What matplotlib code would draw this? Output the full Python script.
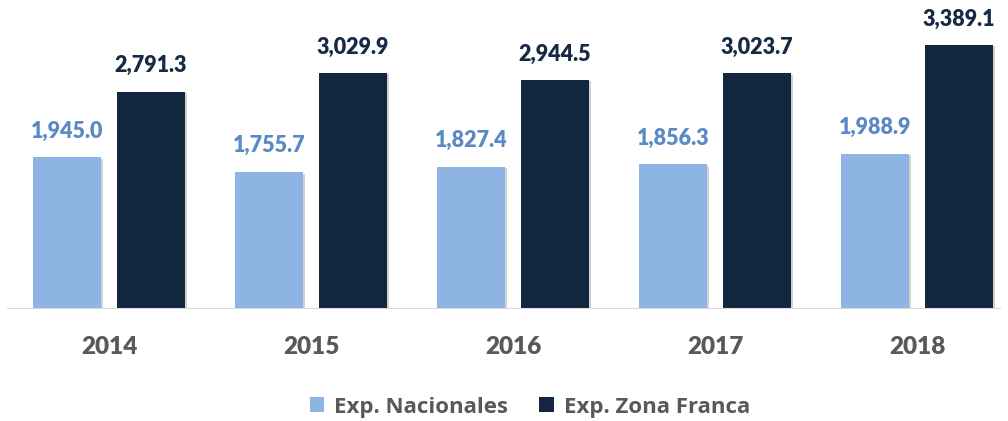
import matplotlib
matplotlib.use("Agg")
import matplotlib.pyplot as plt
import matplotlib.patheffects as pe
from matplotlib.patches import Patch
import numpy as np

years = ["2014", "2015", "2016", "2017", "2018"]
nacionales = [1945.0, 1755.7, 1827.4, 1856.3, 1988.9]
zona_franca = [2791.3, 3029.9, 2944.5, 3023.7, 3389.1]
series_names = ["Exp. Nacionales", "Exp. Zona Franca"]

light = "#8EB4E3"
dark = "#132640"
light_lbl = "#5A8AC6"
dark_lbl = "#172A45"
gray_txt = "#595959"

plt.rcParams["font.family"] = ["Lato", "DejaVu Sans"]

W, H = 1008, 421
fig = plt.figure(figsize=(W / 100, H / 100), dpi=100)
base_px = 309
ax = fig.add_axes([0, 1 - base_px / H, 1, base_px / H])

x = np.arange(len(years))
width = 0.337
off = 0.208
shadow = [pe.SimplePatchShadow(offset=(1.5, -1), shadow_rgbFace="#000000", alpha=0.18), pe.Normal()]
b1 = ax.bar(x - off, nacionales, width, color=light, path_effects=shadow, zorder=3)
b2 = ax.bar(x + off, zona_franca, width, color=dark, path_effects=shadow, zorder=3)

spacing_px = 202
ax.set_xlim(-109 / spacing_px, (W - 109) / spacing_px)
ax.set_ylim(0, base_px / 0.0779)
ax.axis("off")
ax.axhline(0, xmin=8 / W, xmax=1000 / W, color="#D9D9D9", lw=1.5, zorder=4)

for xi, v in zip(x - off, nacionales):
    ax.annotate(f"{v:,.1f}", (xi, v), xytext=(0, 19), textcoords="offset points",
                ha="center", va="center", fontsize=15.5, fontweight="heavy", color=light_lbl)
for xi, v in zip(x + off, zona_franca):
    ax.annotate(f"{v:,.1f}", (xi, v), xytext=(0, 18.5), textcoords="offset points",
                ha="center", va="center", fontsize=15.5, fontweight="heavy", color=dark_lbl)

for xi, yr in zip(x, years):
    ax.annotate(yr, (xi, 0), xytext=(0, -27), textcoords="offset points",
                ha="center", va="center", fontsize=17.5, fontweight="heavy", color=gray_txt)

handles = [Patch(facecolor=light, edgecolor="none"), Patch(facecolor=dark, edgecolor="none")]
fig.legend(handles, series_names, loc="center", bbox_to_anchor=(530 / W, 1 - 407 / H),
           ncol=2, frameon=False, handlelength=0.65, handleheight=0.65,
           handletextpad=0.45, columnspacing=1.4, labelcolor=gray_txt,
           prop={"family": ["Open Sans", "DejaVu Sans"], "weight": "bold", "size": 16})

fig.savefig("out.png", dpi=100)
